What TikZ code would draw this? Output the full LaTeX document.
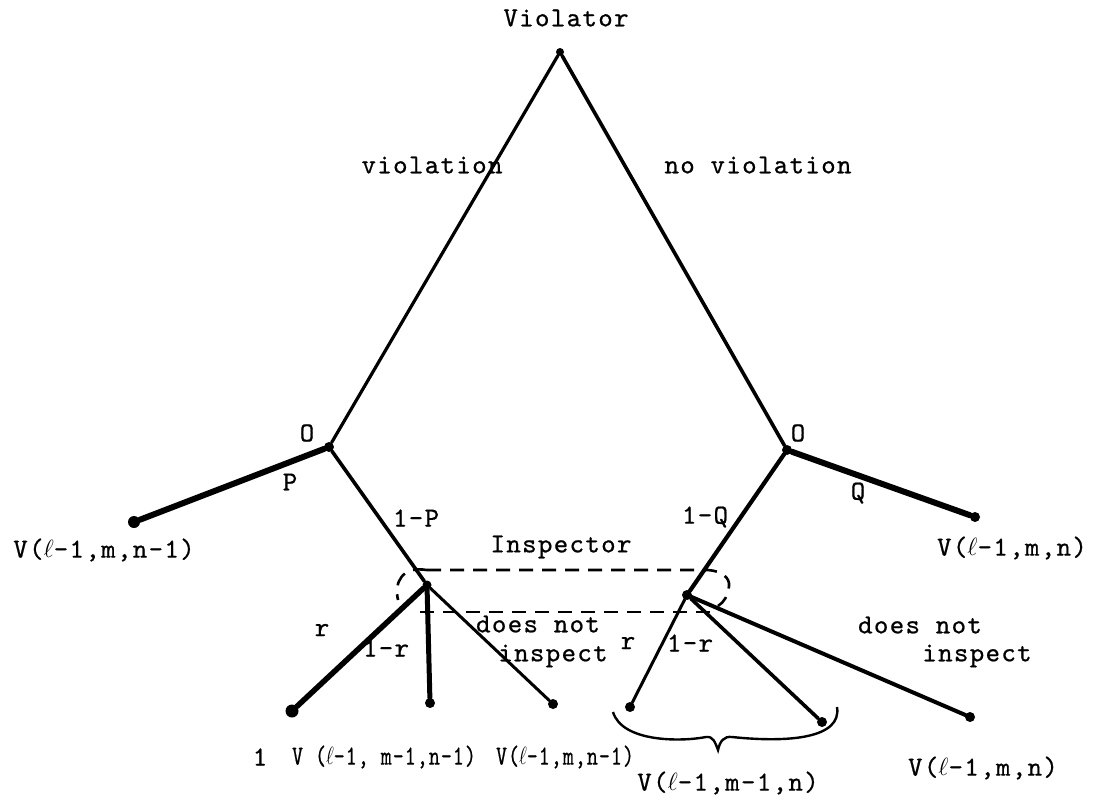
\documentclass[tikz,border=0pt]{standalone}
\usepackage{fontspec}
\newfontfamily\tw{lmmono10-regular.otf}[LetterSpace=5,FakeBold=0.7]
\begin{document}
\begin{tikzpicture}[x=1pt,y=-1pt,
  lbl/.style={font=\tw\fontsize{27.5}{22}\selectfont, inner sep=0pt},
  tight/.style={lbl, xscale=0.76},
  dot/.style={circle,fill,inner sep=0pt,minimum size=#1},
  dot/.default=10pt,
  br/.style={line width=#1, line cap=round},
  iset/.style={line width=2.6pt, dash pattern=on 14pt off 9pt}]
\useasboundingbox (0,0) rectangle (1099,801);
\fill[white] (0,0) rectangle (1099,801);
% nodes
\node[dot=8pt] (root) at (560,52) {};
\node[dot] (o1) at (329,447) {};
\node[dot] (o2) at (787,450) {};
\node[dot=12pt] (lp) at (134,522) {};
\node[dot] (rq) at (975,517) {};
\node[dot=9pt] (i1) at (427,585) {};
\node[dot] (i2) at (687,595) {};
\node[dot=13pt] (l1) at (292,711) {};
\node[dot] (l2) at (430,703) {};
\node[dot] (l3) at (553,704) {};
\node[dot] (r1) at (630,707) {};
\node[dot] (r2) at (822,722) {};
\node[dot] (r3) at (970,717) {};
% edges
\draw[br=3.2pt] (root) -- (o1);
\draw[br=3.6pt] (root) -- (o2);
\draw[br=6pt] (o1) -- (lp);
\draw[br=3.6pt] (o1) -- (i1);
\draw[br=6pt] (o2) -- (rq);
\draw[br=4.2pt] (o2) -- (i2);
\draw[br=5.5pt] (i1) -- (l1);
\draw[br=5pt] (i1) -- (l2);
\draw[br=3pt] (i1) -- (l3);
\draw[br=3pt] (i2) -- (r1);
\draw[br=3.6pt] (i2) -- (r2);
\draw[br=4pt] (i2) -- (r3);
% information set
\coordinate (isa) at (427,570);
\coordinate (isb) at (708,570);
\coordinate (isc) at (729,586);
\coordinate (isd) at (718,606);
\coordinate (ise) at (710,612);
\coordinate (isf) at (417,612);
\coordinate (isg) at (398,600);
\draw[iset] (isa) -- (isb) .. controls (722,571) and (730,578) .. (isc) .. controls (728,596) and (724,602) .. (isd);
\draw[iset] (ise) -- (isf);
\draw[iset] (isa) .. controls (402,566) and (394,582) .. (isg);
% brace
\coordinate (bra) at (613,712);
\coordinate (brm) at (718,750);
\coordinate (brb) at (837,707);
\draw[line width=2.4pt] (bra) .. controls (622,742) and (680,742) .. (706,737)
  .. controls (713,736) and (715,742) .. (brm)
  .. controls (720,741) and (724,736) .. (732,737)
  .. controls (790,743) and (842,738) .. (brb);
% labels
\node[lbl] (tviol) at (566,18) {Violator};
\node[lbl] (tv) at (432,165) {violation};
\node[lbl] (tnv) at (758,165) {no violation};
\node[lbl] (to1) at (307,433) {O};
\node[lbl] (to2) at (798,433) {O};
\node[lbl] (tp) at (290,482) {P};
\node[lbl] (tq) at (858,493) {Q};
\node[lbl] (t1p) at (416,518) {1-P};
\node[lbl] (t1q) at (705,517) {1-Q};
\node[lbl] (tins) at (561,547) {Inspector};
\node[lbl] (tvlp) at (104,550) {V($\ell$-1,m,n-1)};
\node[lbl] (tvrq) at (1012,548) {V($\ell$-1,m,n)};
\node[lbl] (tr1) at (322,630) {r};
\node[lbl] (t1r1) at (386,648) {1-r};
\node[lbl] (tdn1) at (538,624) {does not};
\node[lbl] (tin1) at (553,656) {inspect};
\node[lbl] (tr2) at (628,643) {r};
\node[lbl] (t1r2) at (690,643) {1-r};
\node[lbl] (tdn2) at (920,625) {does not};
\node[lbl] (tin2) at (977,656) {inspect};
\node[lbl] (tone) at (260,757) {1};
\node[tight] (tl2) at (384,757) {V ($\ell$-1, m-1,n-1)};
\node[tight] (tl3) at (565,757) {V($\ell$-1,m,n-1)};
\node[lbl] (tbr) at (728,783) {V($\ell$-1,m-1,n)};
\node[lbl] (tr3) at (983,768) {V($\ell$-1,m,n)};
\end{tikzpicture}
\end{document}
